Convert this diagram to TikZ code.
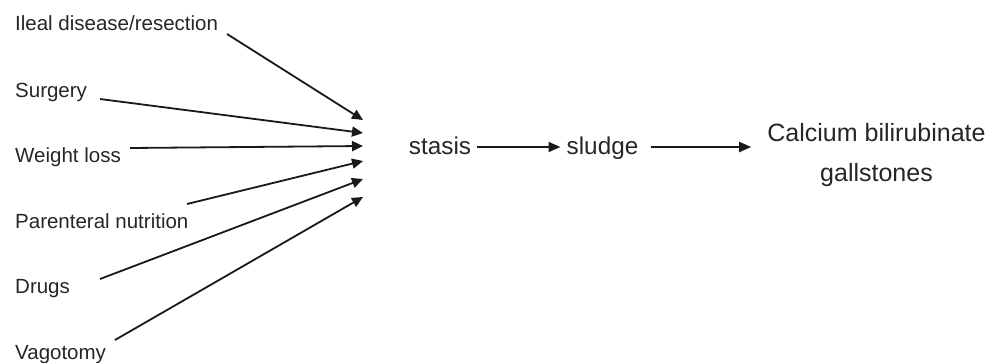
\documentclass[tikz,border=0pt]{standalone}
\usepackage{fontspec}
\setmainfont{Liberation Sans}
\usetikzlibrary{arrows.meta}
\begin{document}
\begin{tikzpicture}[x=1pt,y=-1pt,
  cause/.style={anchor=base west, inner sep=0pt, text=black!85, font=\fontsize{20.5}{24}\selectfont},
  mainlbl/.style={inner ysep=0pt, inner xsep=6pt, text=black!85, font=\fontsize{24.3}{28}\selectfont},
  arr/.style={line width=1.8pt, draw=black!90, -{Triangle[length=11pt,width=10pt]}},
  harr/.style={line width=1.8pt, draw=black!90, -{Triangle[length=12pt,width=10pt]}}]
\useasboundingbox (0,0) rectangle (997,362);
% cause labels
\node[cause] (ileal) at (15,30) {Ileal disease/resection};
\node[cause] (surg) at (15,97) {Surgery};
\node[cause] (wl) at (15,162) {Weight loss};
\node[cause] (pn) at (15,228) {Parenteral nutrition};
\node[cause] (drugs) at (15,293) {Drugs};
\node[cause] (vago) at (15,359) {Vagotomy};
% arrow start and tip points
\coordinate (s1) at (227,34);
\coordinate (s2) at (100,99);
\coordinate (s3) at (130,148);
\coordinate (s4) at (187,204);
\coordinate (s5) at (100,279);
\coordinate (s6) at (115,340);
\coordinate (t1) at (363,120);
\coordinate (t2) at (363,133);
\coordinate (t3) at (363,146);
\coordinate (t4) at (363,161);
\coordinate (t5) at (363,179);
\coordinate (t6) at (363,197);
\foreach \i in {1,...,6} {\draw[arr] (s\i) -- (t\i);}
% main chain
\node[mainlbl, anchor=base] (stasis) at (440,154) {stasis};
\node[mainlbl, anchor=base] (sludge) at (602.5,154) {sludge};
\node[inner sep=0pt, anchor=north, align=center, text=black!85,
      font=\fontsize{25}{40}\selectfont] (calc) at (876.5,122.8) {Calcium bilirubinate\\gallstones};
\draw[harr] ([yshift=7pt]stasis.base east) -- ([yshift=7pt]sludge.base west);
\draw[harr, shorten <=6pt, shorten >=16pt] ([yshift=7pt]sludge.base east) -- ([yshift=7pt]sludge.base east -| calc.west);
\end{tikzpicture}
\end{document}
